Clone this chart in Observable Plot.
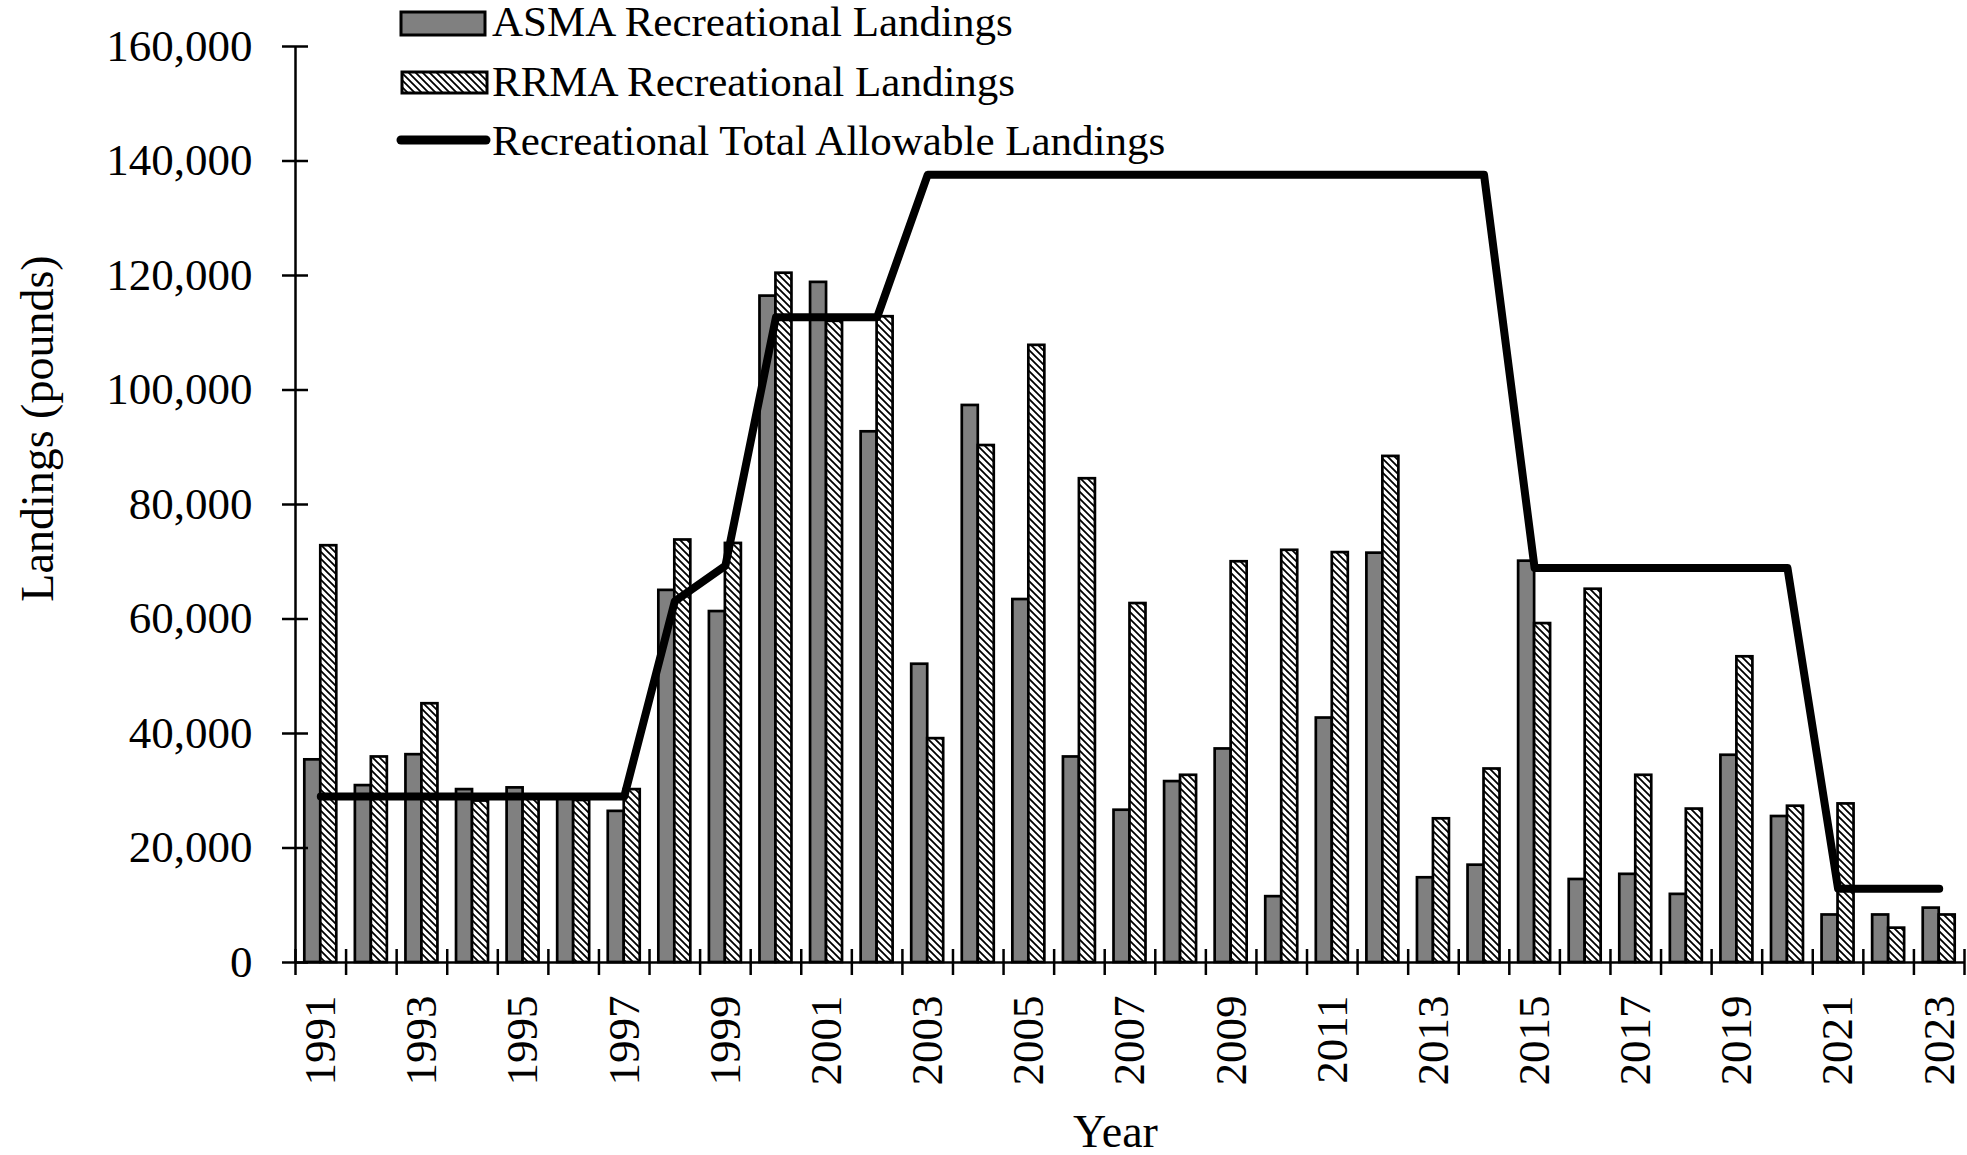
<!DOCTYPE html>
<html><head><meta charset="utf-8">
<script src="https://cdn.jsdelivr.net/npm/d3@7"></script>
<script src="https://cdn.jsdelivr.net/npm/@observablehq/plot@0.6"></script>
<style>body{margin:0;background:#fff;} #chart{width:1967px;height:1155px;}</style>
</head><body><div id="chart"></div>
<script>
// ---- data ----
const years = [1991,1992,1993,1994,1995,1996,1997,1998,1999,2000,2001,2002,2003,2004,2005,2006,2007,2008,2009,2010,2011,2012,2013,2014,2015,2016,2017,2018,2019,2020,2021,2022,2023];
const asmaLandings = [35400,30900,36300,30200,30500,29000,26400,65000,61300,116400,118800,92700,52100,97300,63400,35900,26600,31600,37300,11500,42700,71500,14800,17000,70100,14500,15400,11900,36200,25500,8300,8300,9500];
const rrmaLandings = [72800,35900,45200,28200,29000,28300,30200,73800,73200,120400,112000,112800,39100,90300,107800,84500,62700,32700,70000,72000,71600,88400,25100,33800,59200,65200,32700,26800,53400,27300,27700,6000,8300];
const totalAllowable = [29000,29000,29000,29000,29000,29000,29000,63100,69300,112700,112700,112700,137600,137600,137600,137600,137600,137600,137600,137600,137600,137600,137600,137600,68900,68900,68900,68900,68900,68900,12900,12900,12900];
const yTickValues = [0,20000,40000,60000,80000,100000,120000,140000,160000];
const yearTickLabels = [1991,1993,1995,1997,1999,2001,2003,2005,2007,2009,2011,2013,2015,2017,2019,2021,2023];
const seriesNames = ["ASMA Recreational Landings","RRMA Recreational Landings","Recreational Total Allowable Landings"];
const xTitle = "Year";
const yTitle = "Landings (pounds)";

// ---- layout ----
const W = 1967, H = 1155, ML = 295, MR = 3, MT = 46, MB = 193;
const bw = (W - ML - MR) / years.length;
const barW = 16, sidePad = 9.3;
const rows = years.map((year, i) => ({year, asma: asmaLandings[i], rrma: rrmaLandings[i], tal: totalAllowable[i]}));
const FONT = "'Liberation Serif', 'Times New Roman', serif";

const plot = Plot.plot({
  width: W, height: H,
  marginLeft: ML, marginRight: MR, marginTop: MT, marginBottom: MB,
  style: {fontFamily: FONT, fontSize: "45px", color: "#000", background: "#fff", overflow: "visible"},
  x: {type: "band", domain: years, padding: 0, round: false, axis: null},
  y: {domain: [0, 160000], axis: null},
  marks: [
    Plot.barY(rows, {x: "year", y: "asma", fill: "#808080", stroke: "#000", strokeWidth: 2.7,
      insetLeft: sidePad, insetRight: bw - sidePad - barW}),
    Plot.barY(rows, {x: "year", y: "rrma", fill: "url(#rrmaPattern)", stroke: "#000", strokeWidth: 2.7,
      insetLeft: bw - sidePad - barW, insetRight: sidePad}),
    Plot.line(rows, {x: "year", y: "tal", stroke: "#000", strokeWidth: 8, strokeLinejoin: "round", strokeLinecap: "round"}),
    Plot.ruleY([0], {stroke: "#000", strokeWidth: 2.5}),
    Plot.ruleX([years[0]], {dx: -bw / 2, stroke: "#000", strokeWidth: 2.5}),
    Plot.axisY({ticks: yTickValues, tickFormat: d3.format(","), tickSize: 26, dx: 13, tickPadding: 30, strokeWidth: 2.5, label: null, fontSize: 45}),
    Plot.axisX({ticks: years, tickFormat: () => "", tickSize: 26, dx: -bw / 2, dy: -13, strokeWidth: 2.5, label: null}),
    Plot.axisX({ticks: [years[years.length - 1]], tickFormat: () => "", tickSize: 26, dx: bw / 2, dy: -13, strokeWidth: 2.5, label: null}),
    Plot.text(yearTickLabels, {x: d => d, y: () => 0, text: d => String(d), rotate: -90, textAnchor: "end", lineAnchor: "middle", dy: 33, fontSize: 45, fill: "#000"}),
    Plot.text([yTitle], {text: d => d, frameAnchor: "top-left", textAnchor: "middle", lineAnchor: "middle", dx: 38 - ML, dy: 428 - MT, rotate: -90, fontSize: 46, fill: "#000"}),
    Plot.text([xTitle], {text: d => d, frameAnchor: "bottom-left", textAnchor: "middle", lineAnchor: "middle", dx: 1115 - ML, dy: 1132 - (H - MB), fontSize: 46, fill: "#000"})
  ]
});

const svg = d3.select(plot);
const defs = svg.insert("defs", ":first-child");
const P = 7;
const pat = defs.append("pattern").attr("id", "rrmaPattern").attr("patternUnits", "userSpaceOnUse")
  .attr("width", P).attr("height", P);
pat.append("rect").attr("width", P).attr("height", P).attr("fill", "#fff");
pat.append("path").attr("d", `M-1,-1L${P + 1},${P + 1}M-1,${P - 1}L1,${P + 1}M${P - 1},-1L${P + 1},1`)
  .attr("stroke", "#000").attr("stroke-width", 1.8);

// ---- legend ----
const lg = svg.append("g").attr("font-family", FONT).attr("font-size", 43).attr("fill", "#000").attr("text-anchor", "start");
lg.append("rect").attr("x", 401).attr("y", 12).attr("width", 84).attr("height", 23)
  .attr("fill", "#808080").attr("stroke", "#000").attr("stroke-width", 3);
lg.append("rect").attr("x", 402).attr("y", 72).attr("width", 85).attr("height", 21)
  .attr("fill", "url(#rrmaPattern)").attr("stroke", "#000").attr("stroke-width", 3);
lg.append("line").attr("x1", 401).attr("x2", 486).attr("y1", 140).attr("y2", 140)
  .attr("stroke", "#000").attr("stroke-width", 9).attr("stroke-linecap", "round");
const baselines = [36, 96, 155];
seriesNames.forEach((name, i) => {
  lg.append("text").attr("x", 492).attr("y", baselines[i]).attr("text-anchor", "start").text(name);
});

document.getElementById("chart").appendChild(plot);
</script>
</body></html>
